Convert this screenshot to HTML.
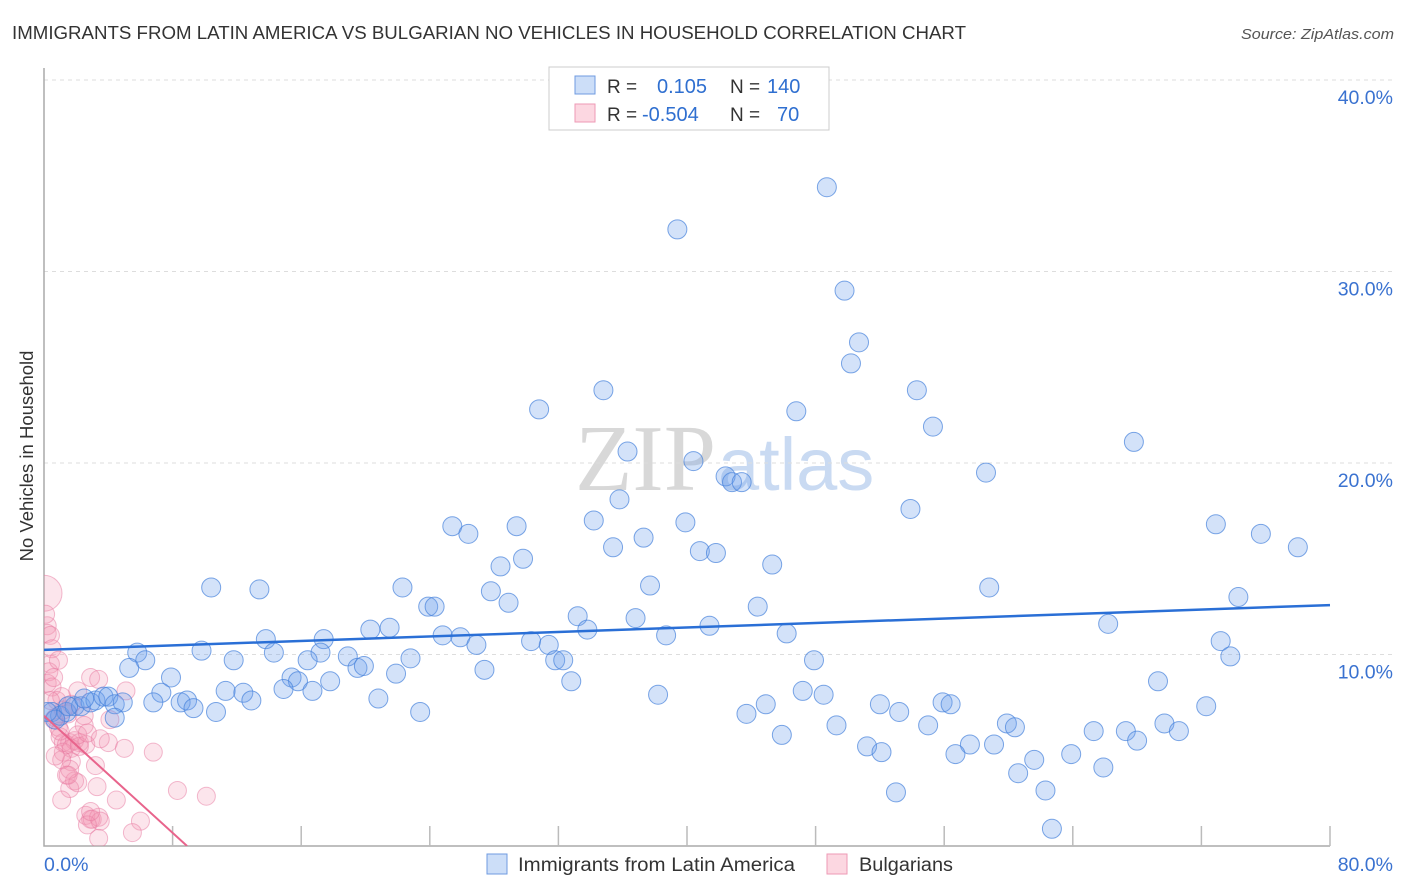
<!DOCTYPE html>
<html><head><meta charset="utf-8">
<style>
body{margin:0;background:#fff;font-family:"Liberation Sans",sans-serif;}
svg{display:block}
</style></head>
<body>
<svg id="chart" width="1406" height="892" xmlns="http://www.w3.org/2000/svg">
<text x="12" y="39" font-size="18" fill="#333" textLength="954" lengthAdjust="spacingAndGlyphs">IMMIGRANTS FROM LATIN AMERICA VS BULGARIAN NO VEHICLES IN HOUSEHOLD CORRELATION CHART</text>
<text x="1241" y="39" font-size="15" fill="#555" font-style="italic" textLength="153" lengthAdjust="spacingAndGlyphs">Source: ZipAtlas.com</text>
<text x="716" y="490" font-size="94" fill="#d8d8d8" text-anchor="end" font-family="Liberation Serif,serif">ZIP</text>
<text x="718" y="490" font-size="74" fill="#c9daf2">atlas</text>
<text transform="translate(33,456) rotate(-90)" font-size="18.5" fill="#333" text-anchor="middle">No Vehicles in Household</text>
<g id="grid"></g><g id="axes"></g>
<defs><clipPath id="plotclip"><rect x="44" y="60" width="1360" height="786"/></clipPath></defs>
<g id="marks" clip-path="url(#plotclip)"></g>
<g>
<rect x="549" y="67" width="280" height="63" fill="#fff" stroke="#ccc"/>
<rect x="575" y="76" width="20" height="18" fill="rgba(110,160,235,0.35)" stroke="#6f9be0"/>
<rect x="575" y="104" width="20" height="18" fill="rgba(245,140,170,0.35)" stroke="#ee9ab5"/>
<text x="607" y="93" font-size="19" fill="#333">R = </text><text x="657" y="93" font-size="20" fill="#2f6fd0">0.105</text>
<text x="730" y="93" font-size="19" fill="#333">N = </text><text x="767" y="93" font-size="20" fill="#2f6fd0">140</text>
<text x="607" y="121" font-size="19" fill="#333">R = </text><text x="642" y="121" font-size="20" fill="#2f6fd0">-0.504</text>
<text x="730" y="121" font-size="19" fill="#333">N = </text><text x="777" y="121" font-size="20" fill="#2f6fd0">70</text>
</g>
<g>
<rect x="487" y="854" width="20" height="20" fill="rgba(110,160,235,0.35)" stroke="#6f9be0"/>
<text x="518" y="871" font-size="19" fill="#333" textLength="277" lengthAdjust="spacingAndGlyphs">Immigrants from Latin America</text>
<rect x="827" y="854" width="20" height="20" fill="rgba(245,140,170,0.35)" stroke="#ee9ab5"/>
<text x="859" y="871" font-size="19" fill="#333" textLength="94" lengthAdjust="spacingAndGlyphs">Bulgarians</text>
</g>
</svg>
<script>
const yTicks=[10,20,30,40];
const xTickLabels=["0.0%","80.0%"];
const blueX=[48.7,39.4,49.8,50.7,50.2,34.8,54.3,30.8,46.8,55.3,67.8,36.3,40.4,42.4,42.8,43.4,58.6,35.8,53.9,34.2,25.4,29.4,26.4,39.9,72.9,75.7,78.0,37.3,35.4,40.8,41.8,29.8,28.4,45.3,37.7,10.4,13.4,22.3,27.8,58.8,74.3,28.9,23.9,24.3,44.4,33.2,36.8,66.2,21.5,20.3,33.8,41.4,13.8,17.4,24.8,25.9,30.3,38.7,46.2,73.2,26.9,31.4,5.8,9.8,14.3,17.2,73.8,6.3,5.3,11.8,16.4,18.9,19.5,19.9,31.8,32.3,22.8,27.4,21.9,47.9,7.9,15.4,15.8,17.8,11.3,12.4,14.9,16.7,7.3,32.8,69.3,47.2,48.5,38.2,20.8,6.8,8.5,8.9,12.9,9.3,10.7,23.4,43.7,44.9,52.0,53.2,55.9,56.4,72.3,69.7,49.3,55.0,59.9,60.4,65.3,67.3,70.6,68.0,45.9,57.6,56.7,59.1,51.2,52.1,61.6,63.9,60.6,65.9,53.0,62.3,62.7,0.5,1.0,1.4,1.9,2.3,2.9,3.2,3.7,4.0,4.4,4.9,4.4,0.7,0.2,1.5,2.5];
const blueY=[34.4,32.2,29.0,26.3,25.2,23.8,23.8,22.8,22.7,21.9,21.1,20.6,20.1,19.3,19.0,19.0,19.5,18.1,17.6,17.0,16.7,16.7,16.3,16.9,16.8,16.3,15.6,16.1,15.6,15.4,15.3,15.0,14.6,14.7,13.6,13.5,13.4,13.5,13.3,13.5,13.0,12.7,12.5,12.5,12.5,12.0,11.9,11.6,11.4,11.3,11.3,11.5,10.8,10.8,11.0,10.9,10.7,11.0,11.1,10.7,10.5,10.5,10.1,10.2,10.1,10.1,9.9,9.7,9.3,9.7,9.7,9.9,9.3,9.4,9.7,9.7,9.8,9.2,9.0,9.7,8.8,8.8,8.6,8.6,8.1,8.0,8.2,8.1,8.0,8.6,8.6,8.1,7.9,7.9,7.7,7.5,7.5,7.6,7.6,7.2,7.0,7.0,6.9,7.4,7.4,7.0,7.5,7.4,7.3,6.4,6.3,6.3,6.4,6.2,6.0,6.0,6.0,5.5,5.8,5.3,4.8,5.3,5.2,4.9,4.5,4.8,3.8,4.1,2.8,2.9,0.9,7.0,6.8,7.0,7.3,7.3,7.5,7.6,7.8,7.8,7.4,7.5,6.7,6.6,7.0,7.3,7.7];
const pinkX=[0.0,0.2,0.2,0.4,0.5,0.4,0.3,0.2,0.5,0.9,0.8,1.1,1.5,1.7,2.1,2.9,2.5,3.4,5.1,0.7,0.9,1.0,1.2,1.4,1.6,1.9,2.2,2.6,1.2,1.7,2.2,4.0,5.0,6.8,1.7,3.2,1.4,1.9,1.6,2.1,3.3,8.3,10.1,1.1,4.5,2.6,2.9,3.0,3.4,3.5,6.0,2.7,5.5,3.4,0.6,1.0,4.1,2.5,1.6,2.1,1.1,1.2,2.7,3.5,0.7,1.5,2.9,0.4,0.6,0.1];
const pinkY=[13.2,11.5,11.1,11.0,10.3,9.5,9.1,8.5,8.3,9.7,7.6,7.8,6.9,7.4,8.1,8.8,6.8,8.7,8.1,6.7,6.2,5.7,5.4,5.3,5.4,5.5,5.4,5.3,4.9,5.1,5.2,5.4,5.1,4.9,4.4,4.2,3.7,3.4,3.0,3.3,3.1,2.9,2.6,2.4,2.4,1.6,1.4,1.4,1.5,1.3,1.3,1.1,0.7,0.4,6.6,6.0,6.6,6.3,4.0,5.8,4.5,7.1,5.9,5.6,4.7,3.7,1.8,7.6,8.8,12.1];
const blueTrend=[10.24,12.58];   // y at x=0 and x=80
const pinkTrend=[6.8,8.9];       // y-intercept, x-intercept
const NS="http://www.w3.org/2000/svg";
function sx(v){return 44+v*16.075;}
function sy(v){return 846-v*19.15;}
function mk(tag,attrs,parent){const e=document.createElementNS(NS,tag);for(const k in attrs)e.setAttribute(k,attrs[k]);parent.appendChild(e);return e;}
const grid=document.getElementById('grid'),axes=document.getElementById('axes'),marks=document.getElementById('marks');
yTicks.forEach(t=>{
  const l=mk('line',{x1:44,x2:1393,y1:sy(t),y2:sy(t),stroke:'#ddd','stroke-dasharray':'4,4'},grid);
  
  
  const tx=mk('text',{x:1393,y:sy(t)+24,'font-size':19.5,fill:'#3a72d0','text-anchor':'end'},axes);
  tx.textContent=t.toFixed(1)+'%';
  
  
});
const ax=mk('path',{d:'M44 68 V846 H1330',fill:'none',stroke:'#aaa','stroke-width':1.5},axes);


for(let i=1;i<=10;i++){
  const t=mk('line',{x1:sx(i*8),x2:sx(i*8),y1:826,y2:846,stroke:'#bbb','stroke-width':1.5},axes);
  
  
}
[[0,'start',44],[1,'end',1393]].forEach(([i,a,x])=>{
  const tx=mk('text',{x:x,y:871,'font-size':19.5,fill:'#3a72d0','text-anchor':a},axes);
  tx.textContent=xTickLabels[i];
  
  
});
pinkX.forEach((x,i)=>{
  const c=mk('circle',{cx:sx(x),cy:sy(pinkY[i]),r:i===0?18:9,fill:'rgba(245,150,180,0.25)',stroke:'rgba(232,120,160,0.5)','stroke-width':1},marks);
  
  
});
blueX.forEach((x,i)=>{
  const c=mk('circle',{cx:sx(x),cy:sy(blueY[i]),r:9.5,fill:'rgba(110,160,235,0.3)',stroke:'rgba(70,130,220,0.7)','stroke-width':1},marks);
  
  
});
const bl=mk('line',{x1:sx(0),y1:sy(blueTrend[0]),x2:sx(80),y2:sy(blueTrend[1]),stroke:'#2a6fd6','stroke-width':2.5},marks);


const pl=mk('line',{x1:sx(0),y1:sy(pinkTrend[0]),x2:sx(pinkTrend[1]),y2:sy(0),stroke:'#e8648c','stroke-width':2},marks);


</script>
</body></html>
